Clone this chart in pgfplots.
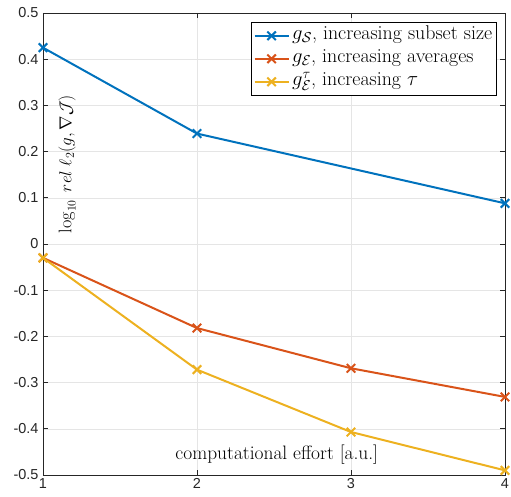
\documentclass[border=0pt]{standalone}
\usepackage{fontspec}
\newfontfamily\ticksans{Liberation Sans}
\usepackage{pgfplots}
\pgfplotsset{compat=1.18}
\definecolor{mblue}{rgb}{0,0.447,0.741}
\definecolor{morange}{rgb}{0.85,0.325,0.098}
\definecolor{myellow}{rgb}{0.929,0.694,0.125}
\definecolor{axgray}{rgb}{0.15,0.15,0.15}
\begin{document}
\begin{tikzpicture}
\begin{axis}[
    scale only axis,
    width=462bp, height=462bp,
    xmin=1, xmax=4, ymin=-0.5, ymax=0.5,
    xtick={1,2,3,4}, xticklabels={1,2,3,4},
    ytick={-0.5,-0.4,-0.3,-0.2,-0.1,0,0.1,0.2,0.3,0.4,0.5},
    yticklabels={-0.5,-0.4,-0.3,-0.2,-0.1,0,0.1,0.2,0.3,0.4,0.5},
    tick label style={font=\ticksans\fontsize{14.5}{17}\selectfont, text=axgray},
    yticklabel style={xshift=-1bp},
    tick align=inside, major tick length=5bp,
    tick style={axgray, line width=0.6bp},
    axis line style={axgray, line width=0.6bp},
    grid=major, grid style={black!10, line width=0.5bp},
    xlabel={computational effort [a.u.]},
    xlabel style={at={(rel axis cs:0.506,0.043)}, anchor=center, font=\fontsize{19.5}{22}\selectfont},
    ylabel={$\log_{10}\; rel\; \ell_2(g,\nabla\mathcal{J})$},
    ylabel style={at={(rel axis cs:0.052,0.673)}, anchor=center, rotate=0, font=\fontsize{18.3}{22}\selectfont},
    legend style={at={(rel axis cs:0.9827,0.9805)}, anchor=north east, draw=black, line width=0.6bp,
        font=\fontsize{20}{23}\selectfont, row sep=0bp, inner sep=2bp,
        nodes={text height=13bp, text depth=5bp, inner sep=2.5bp}},
    legend cell align=left,
    legend image code/.code={
        \draw[#1] (0bp,0bp) -- (34bp,0bp);
        \draw[#1, only marks] plot coordinates {(17bp,0bp)};
    },
]
\addplot[mblue, line width=2bp, mark=x, mark size=6bp, mark options={line width=2bp}] coordinates {
    (1,0.425) (2,0.239) (4,0.088)
};
\addlegendentry{$g_{\mathcal{S}}$, increasing subset size}
\addplot[morange, line width=2bp, mark=x, mark size=6bp, mark options={line width=2bp}] coordinates {
    (1,-0.030) (2,-0.182) (3,-0.269) (4,-0.331)
};
\addlegendentry{$g_{\mathcal{E}}$, increasing averages}
\addplot[myellow, line width=2bp, mark=x, mark size=6bp, mark options={line width=2bp}] coordinates {
    (1,-0.030) (2,-0.272) (3,-0.407) (4,-0.490)
};
\addlegendentry{$g_{\mathcal{E}}^{\tau}$, increasing $\tau$}
\end{axis}
\pgfresetboundingbox
\useasboundingbox ([xshift=-43bp,yshift=-22bp]current axis.south west) rectangle ([xshift=6bp,yshift=13bp]current axis.north east);
\end{tikzpicture}
\end{document}
